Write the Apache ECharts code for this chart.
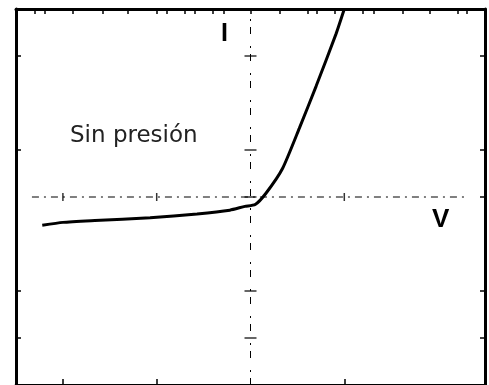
<!DOCTYPE html>
<html>
<head>
<meta charset="utf-8">
<script src="https://cdn.jsdelivr.net/npm/echarts@6/dist/echarts.min.js"></script>
<style>
  html, body { margin: 0; padding: 0; background: #fff; }
  #chart { width: 489px; height: 385px; }
</style>
</head>
<body>
<div id="chart"></div>
<script>
// curva I-V (sin presión)
const curveV = [-2.22, -2.0, -1.66, -1.07, -0.57, -0.22, -0.06, 0.05, 0.165, 0.34, 0.52, 0.70, 0.91, 1.0];
const curveI = [-0.30, -0.27, -0.25, -0.22, -0.18, -0.14, -0.10, -0.08, 0.04, 0.30, 0.73, 1.18, 1.73, 2.0];

// marcas del marco
const bottomTicks = [-2, -1, 1];
const topTicks = [-2.3, -2.19, -1.89, -1.58, -1.31, -1.0, -0.89, -0.7, -0.59, -0.4, -0.29, 0, 0.31, 0.61, 0.71, 0.9, 1.2, 1.31, 1.62, 1.91, 2.21, 2.31];
const leftTicks = [1.5, 0.5, -1, -1.5];
const rightTicks = [1.5, 0.5, 0, -1, -1.5];

// ejes centrales (punto-raya) y sus cruces
const hAxisSpan = [-2.33, 2.31];
const vAxisSpan = [-2, 2];
const vAxisMarks = [1.5, 0.5, 0, -1, -1.5];
const hAxisMarks = [-2, -1, 1];

let myChart = echarts.init(document.getElementById("chart"));

function frameAxis(pos, ticks, len) {
  return {
    type: "value",
    position: pos,
    axisLine: { onZero: false, lineStyle: { color: "#000", width: 3 } },
    axisTick: {
      inside: true,
      length: len,
      customValues: ticks,
      lineStyle: { color: "#000", width: 1.5 },
    },
    axisLabel: { show: false },
    splitLine: { show: false },
  };
}

let xBottom = frameAxis("bottom", bottomTicks, 6);
let xTop = frameAxis("top", topTicks, 5);
let yLeft = frameAxis("left", leftTicks, 5);
let yRight = frameAxis("right", rightTicks, 5);
[xBottom, xTop].forEach(a => { a.min = -2.5; a.max = 2.5; });
[yLeft, yRight].forEach(a => { a.min = -2; a.max = 2; });

let dashDot = { color: "#000", width: 1, type: [7, 5, 2, 5] };

let options = {
  animation: false,
  grid: { left: 16, right: 4, top: 9, bottom: 0 },
  xAxis: [xBottom, xTop],
  yAxis: [yLeft, yRight],
  series: [
    {
      type: "line",
      data: hAxisSpan.map(v => [v, 0]),
      showSymbol: false,
      lineStyle: dashDot,
      silent: true,
    },
    {
      type: "line",
      data: vAxisSpan.map(v => [0, v]),
      showSymbol: false,
      lineStyle: { color: "#000", width: 1, type: [7, 6, 2, 12] },
      silent: true,
    },
    {
      type: "scatter",
      data: vAxisMarks.map(v => [0, v]),
      symbol: "rect",
      symbolSize: [12, 1.5],
      itemStyle: { color: "#000" },
      silent: true,
    },
    {
      type: "scatter",
      data: hAxisMarks.map(v => [v, 0]),
      symbol: "rect",
      symbolSize: [1.5, 8],
      itemStyle: { color: "#000" },
      silent: true,
    },
    {
      name: "Sin presión",
      type: "line",
      data: curveV.map((v, i) => [v, curveI[i]]),
      showSymbol: false,
      smooth: 0.2,
      clip: true,
      lineStyle: { color: "#000", width: 3 },
      z: 5,
    },
  ],
  graphic: [
    {
      type: "text",
      left: 70,
      top: 125,
      style: { text: "Sin presión", font: "23px 'DejaVu Sans'", fill: "#222" },
    },
    {
      type: "text",
      left: 221,
      top: 22,
      style: { text: "I", font: "bold 25px 'Liberation Sans'", fill: "#000" },
    },
    {
      type: "text",
      left: 432,
      top: 207,
      style: { text: "V", font: "bold 26px 'Liberation Sans'", fill: "#000" },
    },
  ],
};
myChart.setOption(options);
</script>
</body>
</html>
